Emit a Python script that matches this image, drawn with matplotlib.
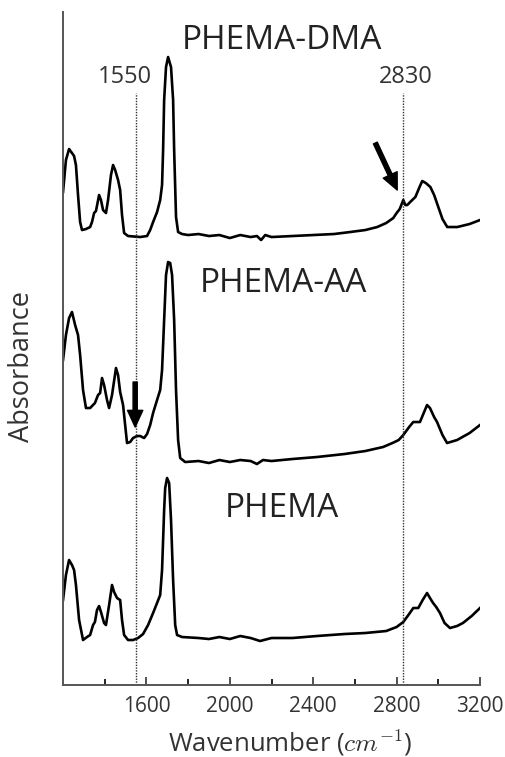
import matplotlib
matplotlib.use("Agg")
import matplotlib.pyplot as plt

plt.rcParams['font.family'] = ['Open Sans', 'DejaVu Sans']
plt.rcParams['mathtext.fontset'] = 'cm'

# spectra: wavenumber (cm-1) and stacked absorbance (a.u.)
dma_wn = [1200, 1214, 1229, 1243, 1253, 1262, 1272, 1282, 1291, 1310, 1330, 1339,
          1349, 1358, 1373, 1382, 1392, 1406, 1416, 1430, 1440, 1450, 1464, 1474,
          1483, 1493, 1512, 1570, 1603, 1618, 1632, 1651, 1666, 1675, 1680, 1685,
          1694, 1704, 1718, 1728, 1733, 1742, 1752, 1771, 1800, 1850, 1900, 1950,
          2000, 2050, 2100, 2130, 2150, 2170, 2200, 2300, 2400, 2500, 2577, 2650,
          2707, 2750, 2784, 2800, 2815, 2832, 2842, 2851, 2870, 2890, 2910, 2923,
          2940, 2962, 2980, 3000, 3020, 3043, 3091, 3150, 3200]
dma_abs = [4.93, 5.25, 5.36, 5.32, 5.29, 5.20, 4.90, 4.63, 4.55, 4.56, 4.58, 4.63,
           4.72, 4.74, 4.90, 4.85, 4.75, 4.72, 4.85, 5.10, 5.20, 5.15, 5.05, 4.95,
           4.70, 4.52, 4.49, 4.48, 4.49, 4.55, 4.63, 4.73, 4.85, 5.00, 5.35, 5.85,
           6.18, 6.28, 6.18, 5.85, 5.35, 4.68, 4.53, 4.51, 4.50, 4.51, 4.49, 4.50,
           4.47, 4.50, 4.48, 4.49, 4.45, 4.50, 4.48, 4.49, 4.50, 4.51, 4.53, 4.55,
           4.58, 4.62, 4.67, 4.72, 4.76, 4.85, 4.80, 4.80, 4.84, 4.88, 4.98, 5.04,
           5.02, 4.98, 4.90, 4.78, 4.66, 4.58, 4.58, 4.61, 4.65]

aa_wn = [1200, 1214, 1229, 1243, 1258, 1272, 1282, 1296, 1310, 1330, 1353, 1368,
         1378, 1387, 1397, 1411, 1421, 1435, 1454, 1464, 1474, 1488, 1498, 1507,
         1522, 1536, 1555, 1570, 1589, 1603, 1618, 1632, 1651, 1666, 1675, 1685,
         1694, 1704, 1714, 1723, 1733, 1742, 1752, 1762, 1786, 1850, 1900, 1950,
         2000, 2050, 2100, 2130, 2159, 2200, 2300, 2418, 2550, 2650, 2735, 2780,
         2810, 2832, 2860, 2880, 2912, 2930, 2946, 2960, 2980, 2994, 3020, 3042,
         3090, 3150, 3200]
aa_abs = [3.25, 3.50, 3.67, 3.73, 3.60, 3.50, 3.30, 2.95, 2.77, 2.77, 2.82, 2.90,
          2.92, 3.07, 3.00, 2.85, 2.77, 2.90, 3.17, 3.10, 2.93, 2.80, 2.60, 2.42,
          2.43, 2.47, 2.49, 2.49, 2.47, 2.51, 2.60, 2.72, 2.85, 2.95, 3.15, 3.65,
          4.10, 4.23, 4.22, 4.10, 3.65, 2.95, 2.45, 2.27, 2.23, 2.24, 2.22, 2.25,
          2.23, 2.25, 2.24, 2.21, 2.25, 2.24, 2.26, 2.28, 2.31, 2.34, 2.38, 2.42,
          2.45, 2.50, 2.58, 2.63, 2.63, 2.72, 2.80, 2.77, 2.68, 2.63, 2.50, 2.42,
          2.45, 2.52, 2.60]

phema_wn = [1200, 1214, 1229, 1243, 1253, 1262, 1277, 1296, 1315, 1330, 1344, 1353,
            1363, 1373, 1382, 1397, 1406, 1421, 1435, 1445, 1459, 1474, 1483, 1493,
            1512, 1536, 1560, 1584, 1608, 1632, 1651, 1666, 1675, 1680, 1685, 1690,
            1699, 1709, 1718, 1728, 1738, 1747, 1771, 1850, 1900, 1950, 2000, 2050,
            2100, 2145, 2200, 2300, 2418, 2550, 2650, 2750, 2800, 2832, 2860, 2880,
            2904, 2925, 2946, 2960, 2975, 2990, 3008, 3030, 3056, 3090, 3118, 3160,
            3200]
phema_abs = [0.85, 1.10, 1.25, 1.20, 1.15, 1.00, 0.65, 0.45, 0.48, 0.50, 0.60, 0.63,
             0.75, 0.79, 0.73, 0.62, 0.60, 0.80, 1.00, 0.93, 0.87, 0.85, 0.65, 0.50,
             0.45, 0.45, 0.47, 0.51, 0.60, 0.72, 0.82, 0.90, 1.15, 1.45, 1.75, 1.97,
             2.07, 2.02, 1.65, 1.05, 0.60, 0.50, 0.48, 0.47, 0.46, 0.48, 0.46, 0.49,
             0.47, 0.44, 0.47, 0.47, 0.49, 0.51, 0.52, 0.54, 0.58, 0.63, 0.71, 0.77,
             0.77, 0.85, 0.92, 0.87, 0.82, 0.78, 0.72, 0.62, 0.57, 0.59, 0.62, 0.69,
             0.77]

marks = [1550, 2830]
mark_label_x = [1498, 2842]

fig = plt.figure(figsize=(5.05, 7.57), dpi=100)
ax = fig.add_axes([0.1248, 0.0951, 0.8257, 0.889])

for wn, a in [(dma_wn, dma_abs), (aa_wn, aa_abs), (phema_wn, phema_abs)]:
    ax.plot(wn, a, color='black', lw=1.9, solid_joinstyle='round')

for m, lx in zip(marks, mark_label_x):
    ax.plot([m, m], [0, 5.92], color='#333333', lw=1.0, ls=(0, (1, 1)))
    ax.text(lx, 6.08, str(m), ha='center', va='center', fontsize=17, color='#333333')

ax.text(2251, 6.45, 'PHEMA-DMA', ha='center', va='center', fontsize=24, color='#222222')
ax.text(2256, 4.02, 'PHEMA-AA', ha='center', va='center', fontsize=24, color='#222222')
ax.text(2251, 1.77, 'PHEMA', ha='center', va='center', fontsize=24, color='#222222')

arrow = dict(facecolor='black', edgecolor='black', width=3, headwidth=11, headlength=12)
ax.annotate('', xy=(2803, 4.95), xytext=(2698, 5.42), arrowprops=arrow)
ax.annotate('', xy=(1546, 2.58), xytext=(1546, 3.03), arrowprops=arrow)

ax.set_xlim(1200, 3200)
ax.set_ylim(0, 6.73)
ax.set_xticks([1600, 2000, 2400, 2800, 3200])
ax.set_xticks([1400, 1800, 2200, 2600, 3000], minor=True)
ax.set_yticks([])
ax.tick_params(axis='x', which='major', direction='in', length=6, width=1.2,
               labelsize=15, colors='#333333', pad=8)
ax.tick_params(axis='x', which='minor', direction='in', length=4, width=1.2)
for s in ['top', 'right']:
    ax.spines[s].set_visible(False)
for s in ['left', 'bottom']:
    ax.spines[s].set_color('#555555')
    ax.spines[s].set_linewidth(1.4)

ax.set_xlabel('Wavenumber ($cm^{-1}$)', fontsize=18.5, color='#333333', va='center')
ax.xaxis.set_label_coords(0.544, -0.086)
ax.set_ylabel('Absorbance', fontsize=19.5, color='#333333', va='center')
ax.yaxis.set_label_coords(-0.098, 0.474)

fig.savefig('out.png', dpi=100)
